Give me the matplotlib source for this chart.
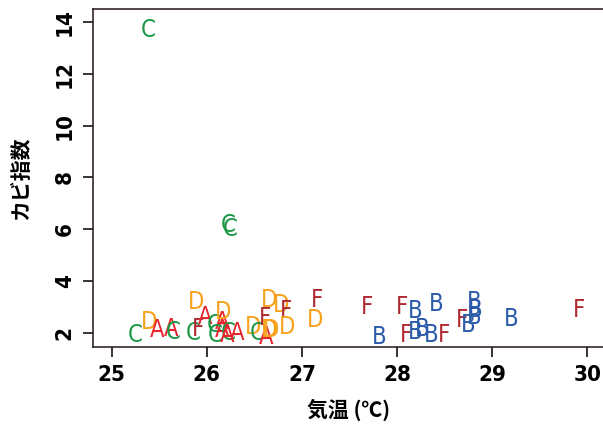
import matplotlib
matplotlib.use('Agg')
import matplotlib.pyplot as plt

plt.rcParams['font.family'] = ['DejaVu Sans']
plt.rcParams['font.stretch'] = 'condensed'

# 地点ラベル, 気温, カビ指数
site = ['C', 'C', 'C',
        'C', 'D', 'A', 'A', 'C', 'D', 'C', 'F', 'A', 'C', 'A', 'D', 'A', 'C', 'C', 'A', 'A',
        'D', 'C', 'F', 'A', 'D', 'D', 'D', 'D', 'F', 'D', 'F', 'D',
        'F', 'B', 'F', 'B', 'F', 'B', 'B', 'B', 'F', 'B', 'F', 'B', 'B', 'B', 'B', 'B', 'F']
temp = [25.38, 26.22, 26.25,
        25.25, 25.39, 25.48, 25.62, 25.65, 25.89, 25.86, 25.91, 25.98, 26.08, 26.16, 26.17, 26.16, 26.09, 26.23, 26.21, 26.32,
        26.49, 26.53, 26.61, 26.62, 26.65, 26.68, 26.66, 26.78, 26.83, 26.84, 27.16, 27.14,
        27.68, 27.81, 28.05, 28.19, 28.10, 28.19, 28.26, 28.36, 28.49, 28.41, 28.68, 28.75, 28.81, 28.82, 28.81, 29.20, 29.91]
kabi = [13.68, 6.17, 6.0,
        1.93, 2.45, 2.13, 2.15, 2.06, 3.22, 2.02, 2.15, 2.64, 2.32, 2.45, 2.83, 2.13, 1.93, 2.0, 1.93, 2.0,
        2.26, 2.0, 2.58, 1.84, 2.13, 2.13, 3.28, 3.09, 2.87, 2.26, 3.28, 2.51,
        3.02, 1.87, 3.0, 2.87, 1.93, 2.06, 2.15, 1.93, 1.93, 3.13, 2.51, 2.32, 3.2, 2.9, 2.63, 2.54, 2.9]

colors = {'A': '#e8232b', 'B': '#2c5ba9', 'C': '#1e9747', 'D': '#f6a21c', 'F': '#b02a34'}

fig = plt.figure(figsize=(6.03, 4.29), dpi=100)
ax = fig.add_axes([0.1537, 0.1918, 0.85, 0.7865])

for s, x, y in zip(site, temp, kabi):
    ax.text(x, y, s, color=colors[s], fontsize=17, ha='center', va='center')

ax.set_xlim(24.8, 30.19)
ax.set_ylim(1.484, 14.476)
ax.set_xticks([25, 26, 27, 28, 29, 30])
ax.set_yticks([2, 4, 6, 8, 10, 12, 14])
ax.tick_params(length=7, width=1.1, labelsize=16, pad=6)
for lab in ax.get_yticklabels():
    lab.set_rotation(90)
    lab.set_va('center')
for lab in ax.get_xticklabels() + ax.get_yticklabels():
    lab.set_fontweight('bold')
for sp in ax.spines.values():
    sp.set_linewidth(1.1)
    sp.set_color('#231815')

cjk = ['Noto Sans CJK JP', 'DejaVu Sans']
ax.set_xlabel('気温 (℃)', family=cjk, fontsize=15, fontweight='bold', labelpad=10)
ax.set_ylabel('カビ指数', family=cjk, fontsize=15, fontweight='bold', labelpad=17)

fig.savefig('out.png', dpi=100)
